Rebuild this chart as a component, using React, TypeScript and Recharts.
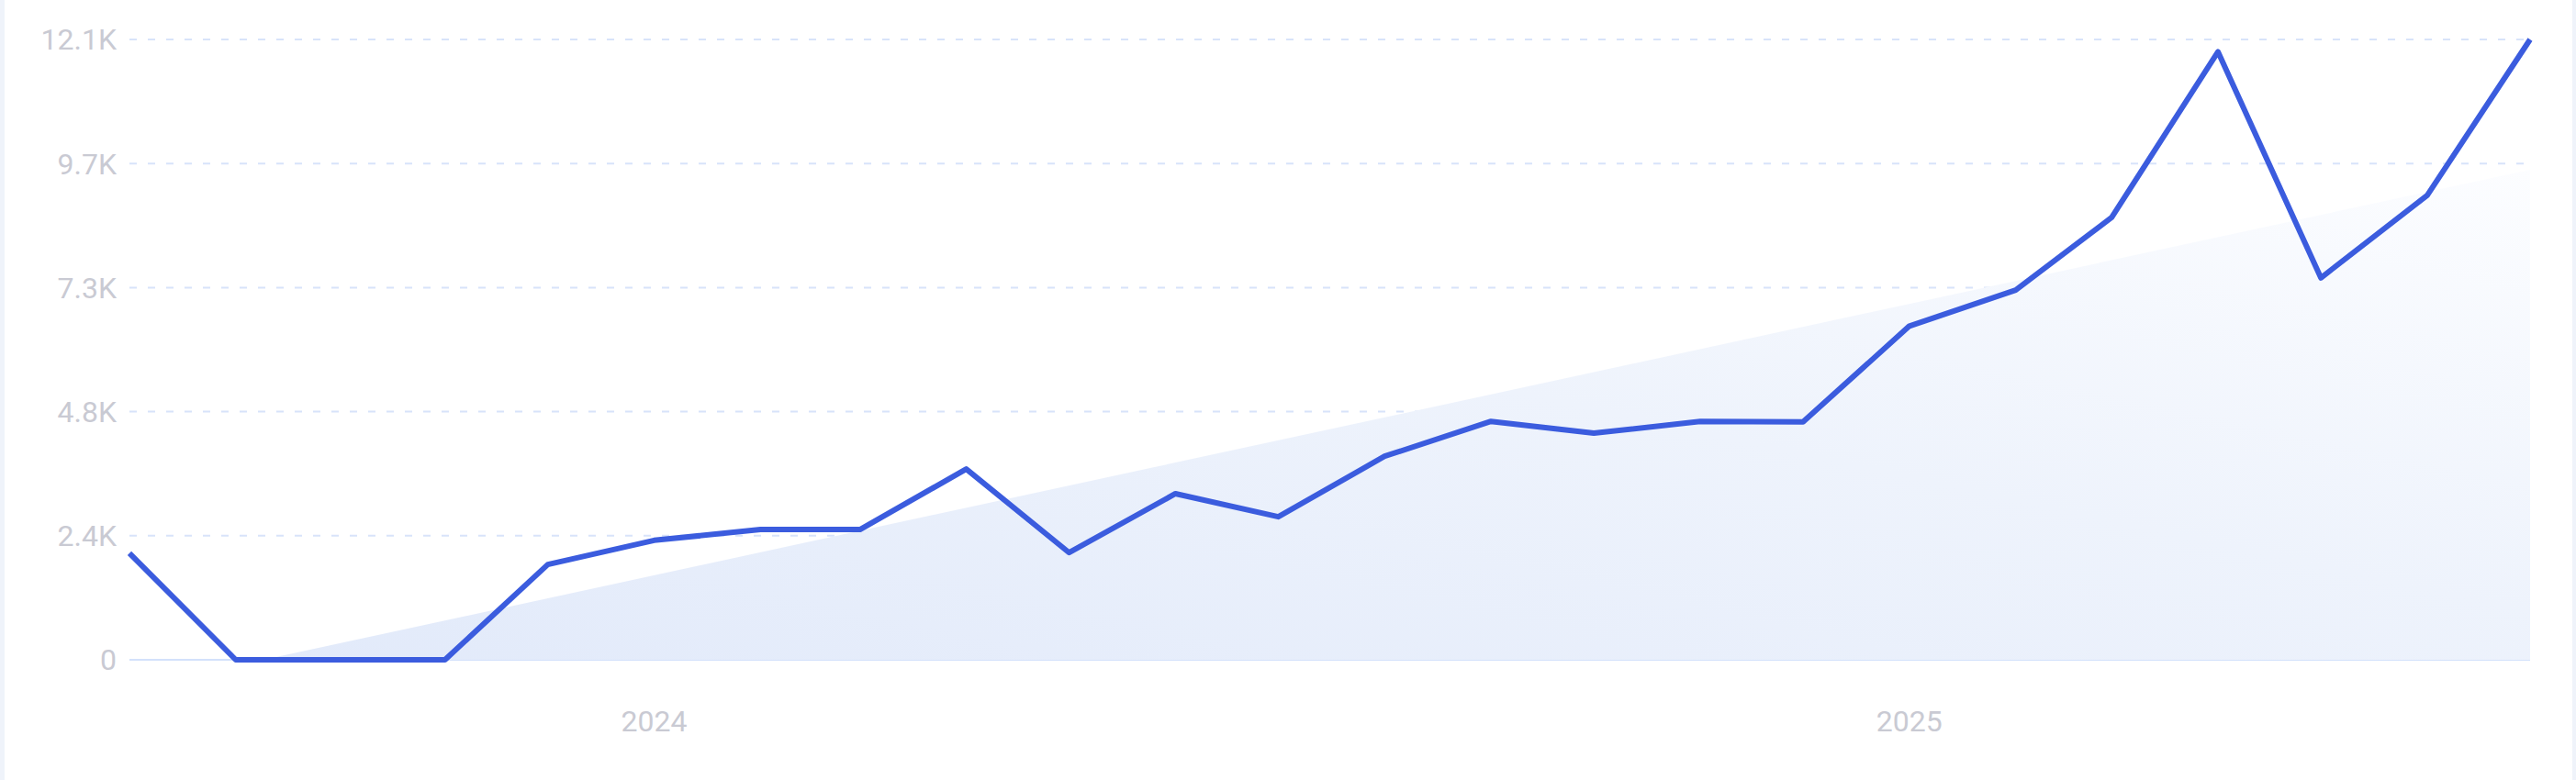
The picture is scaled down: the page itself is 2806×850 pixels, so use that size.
import React from 'react';
import { ComposedChart, Line, Area, XAxis, YAxis, CartesianGrid } from 'recharts';

// monthly values, first of each month
const months = [
  '2023-08', '2023-09', '2023-10', '2023-11', '2023-12',
  '2024-01', '2024-02', '2024-03', '2024-04', '2024-05', '2024-06',
  '2024-07', '2024-08', '2024-09', '2024-10', '2024-11', '2024-12',
  '2025-01', '2025-02', '2025-03', '2025-04', '2025-05', '2025-06', '2025-07',
];
const values = [
  2080, 0, 0, 0, 1860,
  2330, 2540, 2540, 3720, 2090, 3240,
  2790, 3970, 4650, 4420, 4650, 4640,
  6510, 7210, 8630, 11860, 7450, 9060, 12100,
];

// trend band (start where it leaves zero, end at last month)
const trendDates = ['2023-09-09', '2025-07-01'];
const trendValues = [0, 9560];

const yTicks = [0, 2420, 4840, 7260, 9680, 12100];
const xTickDates = ['2024-01-01', '2025-01-01'];
const xDomainDates = ['2023-08-01', '2025-07-01'];

function toTime(s: string): number {
  const [y, m, d] = s.split('-').map(Number);
  return Date.UTC(y, m - 1, d || 1);
}

function formatK(v: number): string {
  if (v === 0) return '0';
  return `${(v / 1000).toFixed(1)}K`;
}

const series = months.map((m, i) => ({ t: toTime(m), value: values[i] }));
const trend = trendDates.map((d, i) => ({ t: toTime(d), trend: trendValues[i] }));

const tickStyle = { fontSize: 32, fill: '#c9cad3', fontFamily: 'Roboto, sans-serif' };

export default function App() {
  return (
    <div
      style={{
        position: 'absolute',
        left: 0,
        top: 0,
        width: 2806,
        height: 850,
        background: '#eff3fa',
      }}
    >
      <div style={{ position: 'absolute', left: 5, top: 0, width: 2797, height: 850, background: '#ffffff' }}>
        <ComposedChart width={2797} height={850} margin={{ top: 43, right: 46, bottom: 31, left: 0 }}>
          <defs>
            <linearGradient id="trendFill" x1="0" y1="1" x2="1" y2="0">
              <stop offset="0%" stopColor="#e2eafa" />
              <stop offset="55%" stopColor="#eef3fc" />
              <stop offset="100%" stopColor="#fcfdff" />
            </linearGradient>
          </defs>
          <CartesianGrid
            vertical={false}
            stroke="#d8e3fa"
            strokeWidth={2}
            strokeDasharray="8 12"
          />
          {/* solid baseline, kept under the series */}
          <CartesianGrid vertical={false} horizontalValues={[0]} stroke="#d3e1fb" strokeWidth={2} />
          <XAxis
            dataKey="t"
            type="number"
            scale="time"
            domain={xDomainDates.map(toTime)}
            ticks={xTickDates.map(toTime)}
            tickFormatter={(t: number) => String(new Date(t).getUTCFullYear())}
            height={100}
            tickSize={0}
            tickMargin={55}
            tickLine={false}
            axisLine={false}
            tick={tickStyle}
            allowDuplicatedCategory={false}
          />
          <YAxis
            width={136}
            domain={[0, 12100]}
            ticks={yTicks}
            tickFormatter={formatK}
            tickSize={0}
            tickMargin={14}
            tickLine={false}
            axisLine={false}
            tick={tickStyle}
          />
          <Area
            data={trend}
            dataKey="trend"
            type="linear"
            stroke="none"
            fill="url(#trendFill)"
            fillOpacity={1}
            isAnimationActive={false}
            dot={false}
            activeDot={false}
          />
          <Line
            data={series}
            dataKey="value"
            type="linear"
            stroke="#3b5cde"
            strokeWidth={6}
            strokeLinejoin="round"
            dot={false}
            activeDot={false}
            isAnimationActive={false}
          />
        </ComposedChart>
      </div>
    </div>
  );
}
